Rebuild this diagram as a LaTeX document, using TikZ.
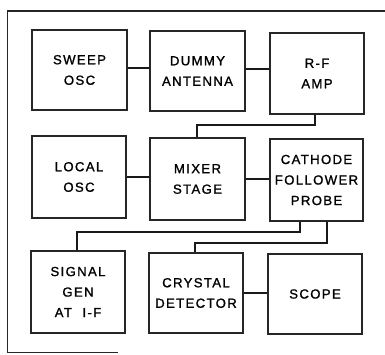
\documentclass[tikz,border=0pt]{standalone}
\usepackage{fontspec}
\setmainfont{Liberation Sans}[LetterSpace=10,FakeBold=1.2]
\begin{document}
\begin{tikzpicture}[x=1pt,y=-1pt,
  blk/.style={draw=black!85,line width=1.3pt,minimum width=94pt,minimum height=81pt,
    align=center,font=\fontsize{13.2}{20.5}\selectfont,inner sep=0pt},
  wire/.style={line width=2.8pt,black!90},
  frame/.style={line width=1.8pt,black!85}]
\useasboundingbox (0,0) rectangle (385,355);
\draw[frame] (385,11) -- (7.5,11) -- (7.5,352.5) -- (118,352.5);
\node[blk,minimum width=95pt,minimum height=80pt] (sweep) at (79.5,70) {SWEEP\\OSC};
\node[blk,minimum width=95pt,minimum height=80pt] (dummy) at (197.5,71) {DUMMY\\ANTENNA};
\node[blk] (rf) at (317,73.5) {R-F\\AMP};
\node[blk,minimum height=82pt] (local) at (79,177) {LOCAL\\OSC};
\node[blk,minimum width=95pt,minimum height=82pt] (mixer) at (197.5,179) {MIXER\\STAGE};
\node[blk,minimum width=93pt,minimum height=82pt] (cath) at (316.5,180) {CATHODE\\FOLLOWER\\PROBE};
\node[blk,minimum height=82pt] (sig) at (78,292) {SIGNAL\\GEN\\AT\hspace{0.8em}I-F};
\node[blk,minimum height=80pt] (crys) at (196,293) {CRYSTAL\\DETECTOR};
\node[blk,minimum height=80pt] (scope) at (315,294) {SCOPE};
\coordinate (j1) at (197,125);
\coordinate (j2) at (300,232);
\coordinate (j3) at (77,232);
\coordinate (j4) at (327,243);
\coordinate (j5) at (195,243);
\draw[wire] ([yshift=2pt]sweep.east) -- ([yshift=2pt]sweep.east -| dummy.west);
\draw[wire] ([yshift=2pt]dummy.east) -- ([yshift=2pt]dummy.east -| rf.west);
\draw[wire] ([xshift=-2pt]rf.south) |- (j1) -- (j1 |- mixer.north);
\draw[wire] (local.east) -- (local.east -| mixer.west);
\draw[wire] (mixer.east) -- (mixer.east -| cath.west);
\draw[wire] (cath.south -| j2) -- (j2) -- (j3) -- (j3 |- sig.north);
\draw[wire] (cath.south -| j4) -- (j4) -- (j5) -- (j5 |- crys.north);
\draw[wire] (crys.east) -- (crys.east -| scope.west);
\end{tikzpicture}
\end{document}
